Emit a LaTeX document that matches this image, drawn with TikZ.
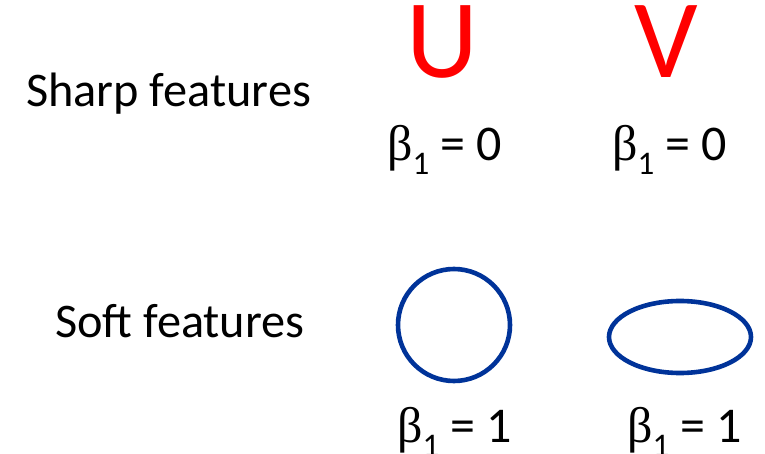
\documentclass[tikz,border=0pt]{standalone}
\usepackage{fontspec}
\setmainfont{Carlito}
\newfontfamily\betafont{Liberation Serif}
\definecolor{loopblue}{HTML}{003399}
\definecolor{letterred}{HTML}{FF0000}
\newcommand{\bsub}[1]{{\betafont β}\raisebox{-0.28em}{\fontsize{33}{40}\selectfont #1}}
\begin{document}
\begin{tikzpicture}[x=1pt,y=-1pt,
  lbl/.style={inner sep=0pt,anchor=base west,font=\fontsize{48.3}{58}\selectfont},
  big/.style={inner sep=0pt,anchor=base,text=letterred,text height=72pt,text depth=0pt,font=\fontsize{112}{120}\selectfont},
  betalbl/.style={inner sep=0pt,anchor=base west,text depth=10pt,font=\fontsize{50}{58}\selectfont},
  loop/.style={draw=loopblue,line width=4.6pt}]
\useasboundingbox (0,0) rectangle (765,454);
\node[lbl] (sharp) at (26,107) {Sharp features};
\node[lbl] (soft) at (55,337) {Soft features};
\node[big] (U) at (442,78) {U};
\node[big] (V) at (666,78) {V};
\node[betalbl] (b1) at (387,161) {\bsub{1} = 0};
\node[betalbl] (b2) at (612,161) {\bsub{1} = 0};
\node[betalbl] (b3) at (397,442) {\bsub{1} = 1};
\node[betalbl] (b4) at (627,442) {\bsub{1} = 1};
\draw[loop] (454,325) circle[radius=56];
\draw[loop] (680,337) ellipse[x radius=71,y radius=36];
\end{tikzpicture}
\end{document}
